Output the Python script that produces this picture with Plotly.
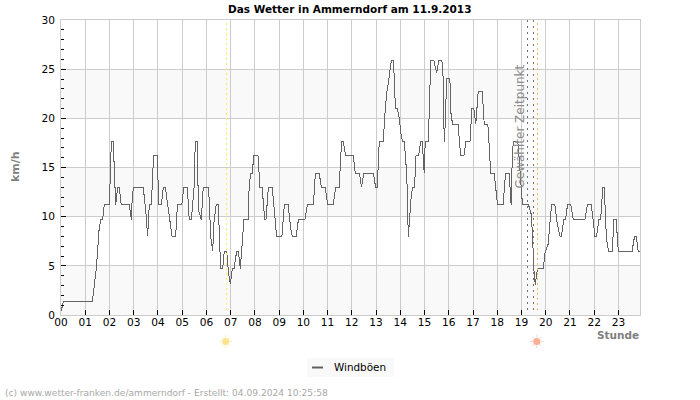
import plotly.graph_objects as go

hours_read = [0.03,0.09,0.12,1.32,1.49,1.60,1.67,1.74,1.81,2.02,2.05,2.07,2.10,2.18,2.21,2.24,2.28,2.36,2.43,2.51,2.84,2.93,2.95,3.01,3.42,3.53,3.60,3.67,3.75,3.81,3.84,4.00,4.06,4.17,4.25,4.33,4.42,4.55,4.61,4.76,4.83,5.01,5.10,5.24,5.32,5.41,5.52,5.57,5.65,5.70,5.82,5.90,6.12,6.19,6.22,6.29,6.34,6.43,6.52,6.59,6.62,6.70,6.77,6.84,6.89,6.94,7.02,7.10,7.17,7.28,7.35,7.43,7.49,7.58,7.75,7.80,7.86,7.93,7.98,8.16,8.24,8.33,8.41,8.44,8.49,8.59,8.75,8.84,8.93,9.15,9.25,9.41,9.51,9.58,9.74,9.83,10.10,10.20,10.45,10.53,10.69,10.78,10.94,11.04,11.27,11.37,11.52,11.58,11.63,11.69,11.78,12.10,12.18,12.35,12.44,12.53,12.93,13.02,13.09,13.17,13.34,13.39,13.48,13.56,13.67,13.75,13.78,13.84,13.92,14.00,14.08,14.14,14.21,14.28,14.33,14.37,14.41,14.50,14.55,14.63,14.69,14.80,14.88,14.95,15.03,15.07,15.20,15.23,15.27,15.30,15.43,15.54,15.63,15.76,15.82,15.83,15.87,15.92,15.96,16.09,16.13,16.20,16.43,16.50,16.54,16.67,16.75,16.92,17.00,17.08,17.16,17.26,17.43,17.51,17.66,17.74,17.77,17.92,18.02,18.06,18.29,18.39,18.54,18.62,18.67,18.71,18.90,18.94,19.01,19.09,19.34,19.44,19.49,19.53,19.57,19.62,19.67,19.71,19.95,20.02,20.15,20.22,20.29,20.43,20.52,20.64,20.70,20.80,20.87,20.95,21.09,21.19,21.67,21.77,21.93,22.01,22.08,22.15,22.25,22.32,22.39,22.41,22.47,22.52,22.56,22.65,22.80,22.87,22.96,23.05,23.62,23.72,23.79,23.87,23.93]
gusts = [0.4,1.0,1.4,1.4,5.0,8.9,9.7,9.7,11.2,11.2,13.0,16.0,17.6,17.6,16.0,14.0,11.2,13.0,13.0,11.2,11.2,9.7,11.2,13.0,13.0,10.4,8.0,11.2,11.2,14.0,16.2,16.2,11.2,11.2,13.0,13.0,11.2,8.9,8.0,8.0,11.2,11.2,13.0,13.0,9.7,9.7,13.0,17.6,17.6,10.7,9.7,13.0,13.0,9.0,7.7,6.5,9.4,11.2,11.2,6.5,4.7,4.7,6.5,6.5,6.0,4.3,3.2,4.7,4.7,6.5,6.5,4.7,7.2,9.7,9.7,13.3,14.4,14.4,16.2,16.2,13.0,13.0,10.6,9.7,9.7,13.0,13.0,10.6,8.0,8.0,11.2,11.2,8.8,8.0,8.0,9.7,9.7,11.2,11.2,14.4,14.4,13.0,13.0,11.2,11.2,13.0,13.0,16.3,17.6,17.6,16.2,16.2,14.4,14.4,13.0,14.4,14.4,13.0,13.0,17.6,17.6,20.0,22.6,23.8,25.9,25.9,24.7,21.0,21.0,20.0,18.2,17.6,17.6,15.2,12.8,7.9,9.4,12.3,13.0,13.0,16.2,16.2,17.6,17.6,14.4,17.6,17.6,19.7,24.0,25.9,25.9,24.6,25.9,25.9,23.8,20.0,17.6,22.6,24.1,24.1,20.6,19.4,19.4,17.2,16.2,16.2,17.6,17.6,21.0,21.0,19.4,22.7,22.7,19.4,19.4,16.2,14.4,14.4,11.8,11.2,11.2,14.4,14.4,11.2,16.2,17.6,17.6,16.2,13.5,11.2,11.2,10.4,8.7,6.3,4.3,3.1,4.3,4.7,4.7,6.3,7.2,9.4,11.2,11.2,9.4,8.0,8.0,9.7,9.7,11.2,11.2,9.7,9.7,11.2,11.2,9.7,8.0,8.0,9.7,9.7,12.4,13.0,13.0,9.4,7.7,6.5,6.5,9.7,9.7,6.5,6.5,8.0,8.0,6.5,6.5]
hours = [(h * 24.2 - 0.5) / 24.236 for h in hours_read]  # calibration of the readings to the axis
hour_ticks = list(range(24))
hour_labels = [f"{h:02d}" for h in hour_ticks]
y_ticks = [0, 5, 10, 15, 20, 25, 30]
bands = [(0, 5), (10, 15), (20, 25)]
sunrise = 6.829
sunset = 19.661
selected = [19.248, 19.496]
series_name = "Windböen"
XMAX = 23.89

FONT = "DejaVu Sans"
L, T, W, H = 61, 20, 579, 295
px = lambda X: (X - L) / W
py = lambda Y: (T + H - Y) / H

fig = go.Figure()
fig.add_trace(go.Scatter(x=hours, y=gusts, mode="lines", name=series_name,
                         line=dict(color="#646464", width=1), showlegend=False))

shapes = [dict(type="rect", xref="x", yref="y", x0=0, x1=XMAX, y0=a, y1=b,
               fillcolor="#f9f9f9", line=dict(width=0), layer="below") for a, b in bands]
shapes.append(dict(type="line", xref="x", yref="y", x0=sunrise, x1=sunrise, y0=0.5, y1=30,
                   line=dict(color="#fdf050", width=1, dash="2px,3px")))
shapes.append(dict(type="line", xref="x", yref="y", x0=sunset, x1=sunset, y0=0.5, y1=30,
                   line=dict(color="#f4b860", width=1, dash="2px,3px")))
for s in selected:
    shapes.append(dict(type="line", xref="x", yref="y", x0=s, x1=s, y0=0.5, y1=30,
                       line=dict(color="#707070", width=1, dash="2px,4px")))

# sun symbols below the axis
RAYS = ("M-6.5 0L-4 0M6.5 0L4 0M0 -6.5L0 -4M0 6.5L0 4"
        "M-4.6 -4.6L-2.8 -2.8M4.6 4.6L2.8 2.8M-4.6 4.6L-2.8 2.8M4.6 -4.6L2.8 -2.8")
for hr, core, ray in [(sunrise - 0.03, "#fde48c", "#fdeeb4"), (sunset - 0.03, "#fdae94", "#fdd0c4")]:
    shapes.append(dict(type="path", xref="x", yref="paper", xsizemode="pixel", ysizemode="pixel",
                       xanchor=hr, yanchor=py(341.5), path=RAYS, line=dict(color=ray, width=1)))
    shapes.append(dict(type="circle", xref="x", yref="paper", xsizemode="pixel", ysizemode="pixel",
                       xanchor=hr, yanchor=py(341.5), x0=-3.6, x1=3.6, y0=-3.6, y1=3.6,
                       fillcolor=core, line=dict(width=0)))

# legend box
shapes.append(dict(type="rect", xref="paper", yref="paper", x0=px(307), x1=px(394),
                   y0=py(377), y1=py(358), fillcolor="#f9f9f9", line=dict(width=0)))
shapes.append(dict(type="line", xref="paper", yref="paper", x0=px(312), x1=px(323),
                   y0=py(367.5), y1=py(367.5), line=dict(color="#606060", width=2)))

def note(X, Y, text, size, color, anchor="center", angle=0, bold=False):
    return dict(xref="paper", yref="paper", x=px(X), y=py(Y), text=f"<b>{text}</b>" if bold else text,
                showarrow=False, xanchor=anchor, yanchor="middle", textangle=angle,
                font=dict(family=FONT, size=size, color=color))

annotations = [
    note(349.5, 8.5, "Das Wetter in Ammerndorf am 11.9.2013", 10.5, "#000000", bold=True),
    note(15, 167, "km/h", 11, "#808080", angle=-90, bold=True),
    note(641, 334.5, "Stunde", 10.5, "#808080", anchor="right", bold=True),
    note(519.5, 127, "Gewählter Zeitpunkt", 12, "#8c8c8c", angle=-90),
    note(332, 366.5, series_name, 10.4, "#000000", anchor="left"),
    note(3, 393, "(c) www.wetter-franken.de/ammerndorf - Erstellt: 04.09.2024 10:25:58", 9.1, "#a8a8a8", anchor="left"),
]

fig.update_layout(
    width=700, height=400, margin=dict(l=L, r=700 - L - W, t=T, b=400 - T - H, pad=0),
    paper_bgcolor="white", plot_bgcolor="white", showlegend=False,
    font=dict(family=FONT, size=10.6, color="#000000"),
    shapes=shapes, annotations=annotations,
    xaxis=dict(range=[0, XMAX], tickmode="array", tickvals=hour_ticks, ticktext=hour_labels,
               showgrid=True, gridcolor="#cccccc", gridwidth=1, zeroline=False,
               showline=True, linecolor="#cccccc", linewidth=1, mirror=True,
               ticks="inside", ticklen=5, tickcolor="#000000", tickwidth=1,
               tickangle=0, ticklabelstandoff=-3, tickfont=dict(family=FONT, size=10.6)),
    yaxis=dict(range=[0, 30], tickmode="array", tickvals=y_ticks,
               showgrid=True, gridcolor="#cccccc", gridwidth=1, zeroline=False,
               showline=True, linecolor="#cccccc", linewidth=1, mirror=True,
               ticks="inside", ticklen=5, tickcolor="#000000", tickwidth=1,
               minor=dict(dtick=1, tick0=0, ticks="inside", ticklen=3, tickcolor="#000000", tickwidth=1, showgrid=False),
               ticklabelstandoff=3,
               tickfont=dict(family=FONT, size=10.6)),
)
css = ".js-line{shape-rendering:crispEdges}.shapelayer path[style*='dasharray']{shape-rendering:crispEdges}"
fig.write_html("out.html", config=dict(displayModeBar=False),
               post_script="document.body.style.margin='0';document.body.style.overflow='hidden';"
                           "document.head.insertAdjacentHTML('beforeend','<style>" + css.replace("'", '"') + "</style>');")
